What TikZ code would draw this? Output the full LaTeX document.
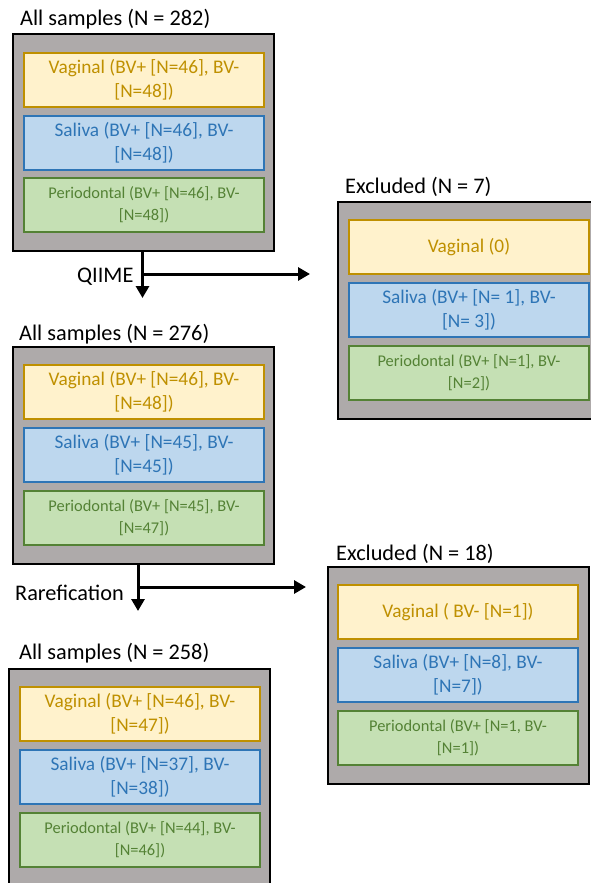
\documentclass[tikz,border=0pt]{standalone}
\usepackage{fontspec}
\setmainfont{Carlito}
\usetikzlibrary{arrows.meta}
\definecolor{outerfill}{HTML}{AEAAAA}
\definecolor{vagfill}{HTML}{FFF2CC}
\definecolor{vagline}{HTML}{BF9000}
\definecolor{salfill}{HTML}{BDD7EE}
\definecolor{salline}{HTML}{2E75B6}
\definecolor{perfill}{HTML}{C5E0B4}
\definecolor{perline}{HTML}{548235}
\newcommand{\nl}{\\\relax}
\begin{document}
\begin{tikzpicture}[x=1pt,y=-1pt,
  outerbox/.style={draw=black, line width=1.8pt, fill=outerfill, minimum width=261pt, minimum height=217pt, anchor=north west, inner sep=0pt},
  innerbox/.style={line width=2pt, minimum width=240pt, minimum height=54pt, anchor=north west, inner sep=0pt, align=center},
  vag/.style={innerbox, draw=vagline, fill=vagfill, text=vagline, font=\fontsize{19.3}{24}\selectfont},
  sal/.style={innerbox, draw=salline, fill=salfill, text=salline, font=\fontsize{19.3}{24}\selectfont},
  per/.style={innerbox, draw=perline, fill=perfill, text=perline, font=\fontsize{16.4}{22}\selectfont},
  title/.style={anchor=base west, inner sep=0pt, font=\fontsize{22.3}{26}\selectfont},
  flow/.style={line width=3pt, -{Triangle[length=12pt,width=13pt]}},
]
\useasboundingbox (0,0) rectangle (591,883);
\clip (0,0) rectangle (591,883);

% Block 1
\node[title] (t1) at (20,26) {All samples (N = 282)};
\node[outerbox] (a1) at (12,33) {};
\node[vag] (a1v) at (23,52) {Vaginal (BV+ [N=46], BV-\nl[N=48])};
\node[sal] (a1s) at (23,115) {Saliva (BV+ [N=46], BV-\nl[N=48])};
\node[per] (a1p) at (23,177) {Periodontal (BV+ [N=46], BV-\nl[N=48])};

% Excluded 1
\node[title] (te1) at (345,193) {Excluded (N = 7)};
\node[outerbox] (e1) at (337,201) {};
\node[vag] (e1v) at (348,219) {Vaginal (0)};
\node[sal] (e1s) at (348,282) {Saliva (BV+ [N= 1], BV-\nl[N= 3])};
\node[per] (e1p) at (348,345) {Periodontal (BV+ [N=1], BV-\nl[N=2])};

% Block 2
\node[title] (t2) at (19,340) {All samples (N = 276)};
\node[outerbox] (a2) at (12,346) {};
\node[vag] (a2v) at (23,364) {Vaginal (BV+ [N=46], BV-\nl[N=48])};
\node[sal] (a2s) at (23,427) {Saliva (BV+ [N=45], BV-\nl[N=45])};
\node[per] (a2p) at (23,490) {Periodontal (BV+ [N=45], BV-\nl[N=47])};

% Excluded 2
\node[title] (te2) at (336,560) {Excluded (N = 18)};
\node[outerbox] (e2) at (327,566) {};
\node[vag] (e2v) at (337,584) {Vaginal ( BV- [N=1])};
\node[sal] (e2s) at (337,647) {Saliva (BV+ [N=8], BV-\nl[N=7])};
\node[per] (e2p) at (337,710) {Periodontal (BV+ [N=1, BV-\nl[N=1])};

% Block 3
\node[title] (t3) at (19,659) {All samples (N = 258)};
\node[outerbox] (a3) at (8,668) {};
\node[vag] (a3v) at (19,686) {Vaginal (BV+ [N=46], BV-\nl[N=47])};
\node[sal] (a3s) at (19,749) {Saliva (BV+ [N=37], BV-\nl[N=38])};
\node[per] (a3p) at (19,812) {Periodontal (BV+ [N=44], BV-\nl[N=46])};

% QIIME step
\coordinate (q0) at (142.5,250);
\coordinate (qdown) at (142.5,298);
\coordinate (qmid) at (142.5,274);
\coordinate (qright) at (310,274);
\draw[flow] (q0) -- (qdown);
\draw[flow] (qmid) -- (qright);
\node[title] (ql) at (77,282) {QIIME};

% Rarefication step
\coordinate (r0) at (138,563);
\coordinate (rdown) at (138,611);
\coordinate (rmid) at (138,587);
\coordinate (rright) at (306,587);
\draw[flow] (r0) -- (rdown);
\draw[flow] (rmid) -- (rright);
\node[title] (rl) at (15,600) {Rarefication};
\end{tikzpicture}
\end{document}
